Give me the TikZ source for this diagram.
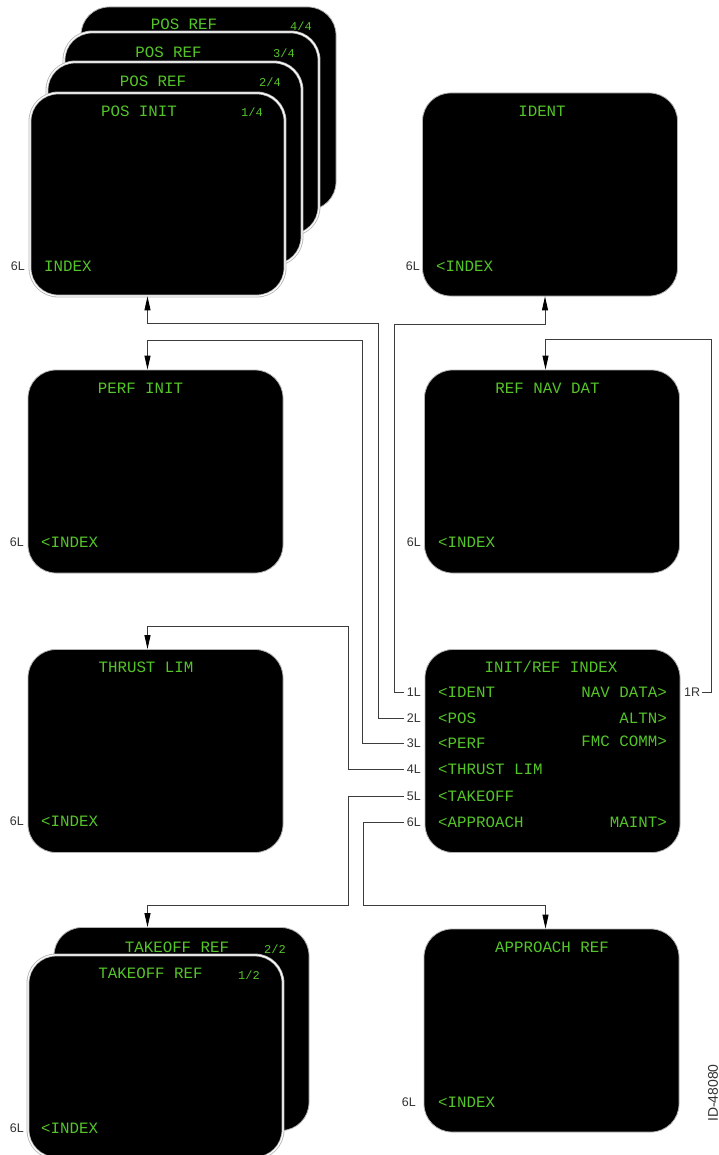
\documentclass[tikz,border=0pt]{standalone}
\usepackage{fontspec}
\setmainfont{Liberation Sans}
\newfontfamily\cdufont{Liberation Mono}
\usetikzlibrary{arrows.meta}
\definecolor{cdugreen}{RGB}{84,196,40}
\definecolor{linegray}{RGB}{60,60,60}
\begin{document}
\begin{tikzpicture}[x=1pt,y=-1pt,
  screen/.style={rectangle, rounded corners=28pt, fill=black, draw=black!30, line width=0.8pt,
    minimum width=255pt, minimum height=203pt, inner sep=0pt},
  stacked/.style={screen, double=white, double distance=1.2pt},
  cdu/.style={text=cdugreen, font=\cdufont\fontsize{15.8}{16}\selectfont, inner sep=0pt},
  cdusmall/.style={text=cdugreen, font=\cdufont\fontsize{12}{12}\selectfont, inner sep=0pt},
  key/.style={text=black!80, font=\fontsize{12.5}{13}\selectfont, inner sep=0pt},
  conn/.style={draw=linegray, line width=0.9pt},
  arr/.style={conn, -{Triangle[length=14pt,width=6pt,fill=black,color=black]}}]
\useasboundingbox (0,0) rectangle (719,1155);

% ---- POS stack ----
\node[screen] (pos4) at (208.5,108.5) {};
\node[cdu] (t4) at (184,24) {POS REF};
\node[cdusmall] (n4) at (301,26) {4/4};
\node[stacked] (pos3) at (191.5,133.5) {};
\node[cdu] (t3) at (168.5,52) {POS REF};
\node[cdusmall] (n3) at (284,53) {3/4};
\node[stacked] (pos2) at (174.5,163.5) {};
\node[cdu] (t2) at (153,81) {POS REF};
\node[cdusmall] (n2) at (270,82) {2/4};
\node[stacked] (posinit) at (157.5,194.5) {};
\node[cdu] (t1) at (139,111) {POS INIT};
\node[cdusmall] (n1) at (252,112) {1/4};
\node[cdu, anchor=west] (pidx) at (44,266) {INDEX};
\node[key, anchor=east] (p6) at (25,266) {6L};

% ---- IDENT ----
\node[screen] (ident) at (550,194.5) {};
\node[cdu] (tid) at (542,111) {IDENT};
\node[cdu, anchor=west] (iidx) at (436,266) {<INDEX};
\node[key, anchor=east] (i6) at (420,266) {6L};

% ---- PERF INIT ----
\node[screen] (perf) at (155.5,471.5) {};
\node[cdu] (tpf) at (140.5,388) {PERF INIT};
\node[cdu, anchor=west] (pfidx) at (41,542) {<INDEX};
\node[key, anchor=east] (pf6) at (24,542) {6L};

% ---- REF NAV DAT ----
\node[screen] (refnav) at (552,471.5) {};
\node[cdu] (trn) at (547.5,388) {REF NAV DAT};
\node[cdu, anchor=west] (rnidx) at (438,542) {<INDEX};
\node[key, anchor=east] (rn6) at (421,542) {6L};

% ---- THRUST LIM ----
\node[screen] (thrust) at (155.5,751) {};
\node[cdu] (tth) at (146,667) {THRUST LIM};
\node[cdu, anchor=west] (thidx) at (41,821) {<INDEX};
\node[key, anchor=east] (th6) at (24,821) {6L};

% ---- INIT/REF INDEX ----
\node[screen] (index) at (552.5,751) {};
\node[cdu] (tix) at (551,667) {INIT/REF INDEX};
\node[cdu, anchor=west] (r1) at (438,692) {<IDENT};
\node[cdu, anchor=west] (r2) at (438,718) {<POS};
\node[cdu, anchor=west] (r3) at (438,743) {<PERF};
\node[cdu, anchor=west] (r4) at (438,769) {<THRUST LIM};
\node[cdu, anchor=west] (r5) at (438,796) {<TAKEOFF};
\node[cdu, anchor=west] (r6) at (438,822) {<APPROACH};
\node[cdu, anchor=east] (q1) at (667,692) {NAV DATA>};
\node[cdu, anchor=east] (q2) at (667,718) {ALTN>};
\node[cdu, anchor=east] (q3) at (667,741) {FMC COMM>};
\node[cdu, anchor=east] (q6) at (667,822) {MAINT>};
\node[key, anchor=east] (k1) at (421,692) {1L};
\node[key, anchor=east] (k2) at (421,718) {2L};
\node[key, anchor=east] (k3) at (421,743) {3L};
\node[key, anchor=east] (k4) at (421,769) {4L};
\node[key, anchor=east] (k5) at (421,796) {5L};
\node[key, anchor=east] (k6) at (421,822) {6L};
\node[key, anchor=west] (k1r) at (684,692) {1R};

% ---- TAKEOFF stack ----
\node[screen] (to2) at (181.5,1029) {};
\node[cdu] (tt2) at (177,947) {TAKEOFF REF};
\node[cdusmall] (nt2) at (275,949) {2/2};
\node[stacked] (to1) at (155.5,1056.5) {};
\node[cdu] (tt1) at (150.5,973) {TAKEOFF REF};
\node[cdusmall] (nt1) at (249,975) {1/2};
\node[cdu, anchor=west] (toidx) at (41,1128) {<INDEX};
\node[key, anchor=east] (to6) at (24,1128) {6L};

% ---- APPROACH REF ----
\node[screen] (appr) at (551.5,1030.5) {};
\node[cdu] (tap) at (552,947) {APPROACH REF};
\node[cdu, anchor=west] (apidx) at (438,1102) {<INDEX};
\node[key, anchor=east] (ap6) at (416,1102) {6L};

\node[key, rotate=90, font=\fontsize{14}{15}\selectfont] (docid) at (713,1093) {ID-48080};

% ---- connectors ----
\draw[arr] ([xshift=-3pt]k1.west) -| (394,324) -| ([xshift=-5pt]ident.south);
\draw[arr] ([xshift=-3pt]k2.west) -| (378,323) -| ([xshift=-10pt]posinit.south);
\draw[arr] ([xshift=-3pt]k3.west) -| (362,340) -| ([xshift=-8pt]perf.north);
\draw[arr] ([xshift=-3pt]k4.west) -| (348,626) -| ([xshift=-8pt]thrust.north);
\draw[arr] ([xshift=-3pt]k5.west) -| (348,905) -| ([xshift=-34pt]to2.north);
\draw[arr] ([xshift=-3pt]k6.west) -| (363,905) -| ([xshift=-6pt]appr.north);
\draw[arr] ([xshift=2pt]k1r.east) -| (711,339) -| ([xshift=-6.5pt]refnav.north);
\end{tikzpicture}
\end{document}
